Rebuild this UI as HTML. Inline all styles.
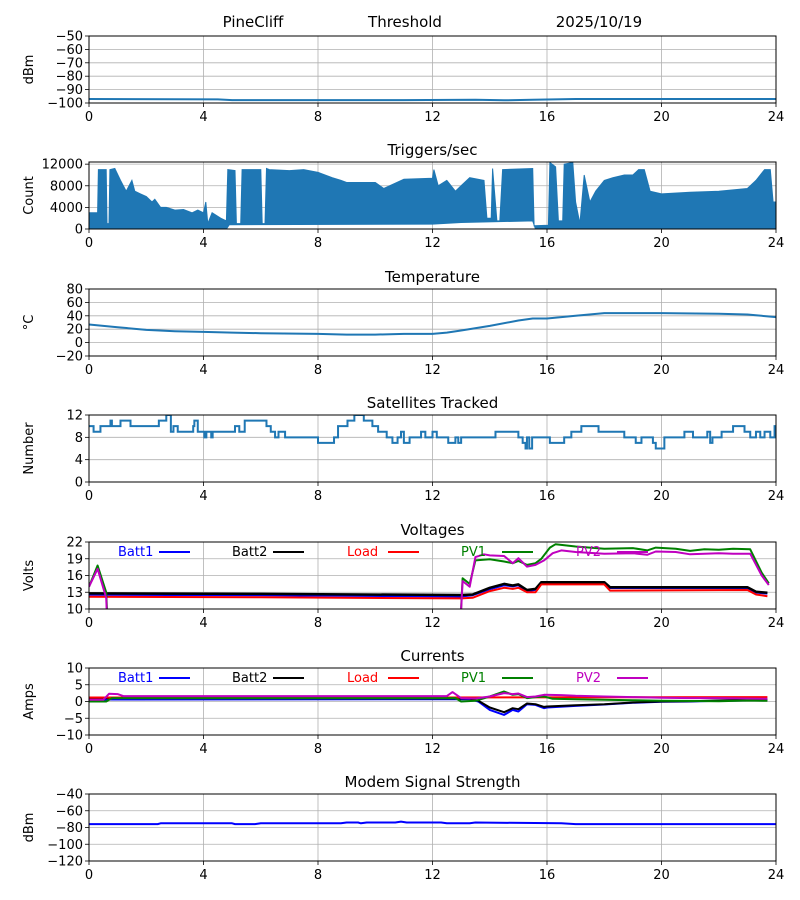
<!DOCTYPE html>
<html><head><meta charset="utf-8">
<style>
html,body{margin:0;padding:0;background:#fff;}
svg{display:block;font-family:"DejaVu Sans","Liberation Sans",sans-serif;}
</style></head>
<body>
<svg id="c" width="800" height="900" viewBox="0 0 800 900"></svg>
<script>
// ---------- DATA ----------
const xTicks = [0,4,8,12,16,20,24];
const thresholdData = [[0,-97],[4.5,-97.3],[5,-97.8],[11,-97.8],[13.5,-97.5],[14.5,-98],[15.5,-97.6],[17,-97],[24,-97]];
const triggerUpper = [[0,3000],[0.3,3000],[0.33,11000],[0.6,11000],[0.63,1000],[0.7,1000],[0.73,11000],[0.9,11200],[1.1,9000],[1.3,7000],[1.5,9000],[1.6,7000],[1.8,6500],[2.0,6000],[2.2,5000],[2.3,5500],[2.5,4000],[2.7,4000],[3.0,3500],[3.3,3600],[3.6,3000],[3.8,3500],[4.0,3000],[4.08,5000],[4.15,1000],[4.3,3000],[4.6,2000],[4.8,1500],[4.85,11000],[5.1,10800],[5.15,1000],[5.3,1000],[5.35,11000],[6.0,11000],[6.05,1000],[6.15,1000],[6.2,11200],[6.3,11000],[7.0,10800],[7.5,11000],[8.0,10500],[8.5,9500],[8.8,9000],[9.0,8600],[10.0,8600],[10.3,7500],[11.0,9200],[12.0,9400],[12.05,11000],[12.2,8000],[12.5,9000],[12.8,7000],[13.0,8000],[13.3,9500],[13.8,9000],[13.9,2000],[14.05,2000],[14.1,11200],[14.25,1500],[14.35,1500],[14.45,11000],[15.5,11200],[15.55,600],[16.05,700],[16.1,12300],[16.3,11500],[16.4,1500],[16.55,1500],[16.6,12000],[16.9,12300],[17.0,5000],[17.15,1000],[17.3,10000],[17.5,5000],[17.7,7000],[18.0,9000],[18.3,9500],[18.7,10000],[19.0,10000],[19.2,11000],[19.4,11000],[19.5,9000],[19.6,7000],[20,6500],[21,6800],[22,7000],[23,7500],[23.3,9000],[23.6,11000],[23.8,11000],[23.9,5000],[24,5000]];
const triggerLower = [[0,0],[4.8,0],[4.9,800],[12,900],[13,1200],[15.5,1500],[15.6,0],[24,0]];
const tempData = [[0,27],[1,23],[2,19],[3,17],[4,16],[5,15],[6,14],[8,13],[9,12],[10,12],[11,13],[12,13],[12.5,15],[13,18],[14,25],[15,33],[15.5,36],[16,36],[17,40],[18,44],[20,44],[22,43],[23,42],[24,38]];
const satSteps = [[0,10],[0.16,9],[0.4,10],[0.75,11],[0.8,10],[1.1,11],[1.45,10],[2.44,11],[2.7,12],[2.86,9],[2.95,10],[3.1,9],[3.64,10],[3.68,11],[3.8,9],[4.03,8],[4.1,9],[4.27,8],[4.32,9],[5.1,10],[5.25,9],[5.44,11],[6.2,10],[6.35,9],[6.5,8],[6.62,9],[6.85,8],[7.4,8],[8.0,7],[8.56,8],[8.7,10],[9.03,11],[9.27,12],[9.6,11],[9.9,10],[10.1,9],[10.4,8],[10.6,7],[10.78,8],[10.9,9],[11.0,7],[11.2,8],[11.6,9],[11.75,8],[12.0,9],[12.15,8],[12.55,7],[12.8,8],[12.9,7],[13.0,8],[14.2,9],[15.0,8],[15.15,7],[15.25,6],[15.3,8],[15.38,6],[15.48,8],[16.1,7],[16.6,8],[16.85,9],[17.2,10],[17.8,9],[18.7,8],[19.1,7],[19.3,8],[19.7,7],[19.8,6],[20.1,8],[20.8,9],[21.1,8],[21.6,9],[21.7,7],[21.78,8],[22.1,9],[22.5,10],[22.9,9],[23.1,8],[23.3,9],[23.45,8],[23.6,9],[23.8,8],[23.95,10],[24,10]];
const vBatt1 = [[0,12.6],[6,12.5],[13,12.3],[13.4,12.5],[14,13.6],[14.5,14.3],[14.8,14.1],[15,14.3],[15.3,13.2],[15.6,13.5],[15.8,14.7],[18,14.7],[18.2,13.8],[23,13.8],[23.3,13.0],[23.7,12.8]];
const vBatt2 = [[0,12.8],[6,12.7],[13,12.5],[13.4,12.6],[14,13.8],[14.5,14.5],[14.8,14.2],[15,14.4],[15.3,13.4],[15.6,13.6],[15.8,14.8],[18,14.8],[18.2,13.9],[23,13.9],[23.3,13.1],[23.7,12.9]];
const vLoad = [[0,12.2],[6,12.1],[13,11.9],[13.4,12.0],[14,13.2],[14.5,13.8],[14.8,13.6],[15,13.8],[15.3,13.0],[15.6,13.0],[15.8,14.4],[18,14.4],[18.2,13.3],[23,13.4],[23.3,12.6],[23.7,12.3]];
const vPV1 = [[0,14],[0.3,17.8],[0.6,13],[0.72,0],[12.9,0],[13.05,15.5],[13.3,14.5],[13.5,18.7],[14,18.9],[14.5,18.5],[14.8,18.2],[15,18.6],[15.3,17.9],[15.6,18.2],[15.8,19],[16.1,21],[16.3,21.6],[17,21.2],[18,20.8],[19,20.9],[19.5,20.5],[19.8,21],[20.5,20.8],[21,20.4],[21.5,20.7],[22,20.6],[22.5,20.8],[23.1,20.7],[23.5,16.5],[23.75,14.6]];
const vPV2 = [[0,14],[0.3,17.2],[0.6,12],[0.7,0],[12.9,0],[13.05,15],[13.3,14],[13.5,19.3],[13.8,19.8],[14,19.6],[14.5,19.5],[14.8,18.2],[15,19.1],[15.3,17.6],[15.6,17.9],[15.9,18.7],[16.2,20],[16.5,20.5],[17,20.2],[18,19.9],[19,20],[19.5,19.7],[19.8,20.3],[20.5,20.2],[21,19.8],[22,20],[22.5,19.9],[23.1,19.9],[23.5,16],[23.75,14.3]];
const iBatt1 = [[0,0.6],[13.3,0.7],[13.6,0],[14,-2.5],[14.5,-4],[14.8,-2.5],[15,-3],[15.3,-0.8],[15.6,-1],[15.9,-2],[16,-1.8],[17,-1.3],[18,-0.9],[19,-0.4],[20,-0.1],[21,0],[22,0.2],[23,0.3],[23.7,0.4]];
const iBatt2 = [[0,1.0],[13.3,0.9],[13.6,0.2],[14,-1.8],[14.5,-3.2],[14.8,-2],[15,-2.3],[15.3,-0.6],[15.6,-0.8],[15.9,-1.6],[16,-1.5],[17,-1.1],[18,-0.8],[19,-0.3],[20,0],[21,0.1],[22,0.3],[23,0.5],[23.7,0.6]];
const iLoad = [[0,1.2],[12,1.2],[23.7,1.3]];
const iPV1 = [[0,0],[0.6,0],[0.8,1.0],[12.8,1.0],[13,0],[13.5,0.2],[14,1.5],[14.5,3],[14.8,2],[15,2.2],[15.3,1],[15.6,1.3],[15.9,1.5],[16.2,0.8],[17,0.7],[18,0.5],[19,0.4],[20,0.2],[22,0.1],[23,0.3],[23.7,0.2]];
const iPV2 = [[0,0.5],[0.5,0.5],[0.7,2.3],[1,2.2],[1.2,1.6],[12.5,1.6],[12.7,2.8],[13,1],[13.5,0.9],[14,1.5],[14.5,2.5],[14.8,2.2],[15,2.4],[15.3,1.3],[15.6,1.5],[15.9,2],[16.5,1.9],[17,1.7],[18,1.5],[19,1.3],[20,1.1],[21,1],[22,1],[23,0.9],[23.7,0.8]];
const modemData = [[0,-76],[2.4,-76],[2.5,-75],[5,-75],[5.1,-76],[5.8,-76],[6,-75],[8.8,-75],[9,-74],[9.4,-74],[9.5,-75],[9.7,-74],[10.7,-74],[10.9,-73],[11.1,-74],[12.3,-74],[12.5,-75],[13.3,-75],[13.5,-74],[16.5,-75],[17,-76],[24,-76]];
const legendLabels = ["Batt1","Batt2","Load","PV1","PV2"];
const legendColors = ["#0000ff","#000000","#ff0000","#008000","#bf00bf"];

// ---------- LAYOUT ----------
const NS="http://www.w3.org/2000/svg";
const svg=document.getElementById('c');
const L=89,R=776,H=67;
function el(tag,attrs,parent){const e=document.createElementNS(NS,tag);for(const k in attrs)e.setAttribute(k,attrs[k]);(parent||svg).appendChild(e);return e;}
function xs(h){return L+(h/24)*(R-L);}
function makePanel(id,top,ymin,ymax,yticks,ylabel,title){
  const g=el('g',{});
  
  
  const ys=v=>top+H-(v-ymin)/(ymax-ymin)*H;
  const cp=el('clipPath',{id:'clip-'+id},g);
  el('rect',{x:L,y:top,width:R-L,height:H},cp);
  // grid
  xTicks.forEach(t=>{const ln=el('line',{x1:xs(t),x2:xs(t),y1:top,y2:top+H,stroke:'#b0b0b0','stroke-width':0.8},g);});
  yticks.forEach(t=>{const ln=el('line',{x1:L,x2:R,y1:ys(t),y2:ys(t),stroke:'#b0b0b0','stroke-width':0.8},g);});
  const plot=el('g',{'clip-path':'url(#clip-'+id+')'},g);
  
  
  const fr=el('rect',{x:L,y:top,width:R-L,height:H,fill:'none',stroke:'#000','stroke-width':1},g);
  
  xTicks.forEach(t=>{
    el('line',{x1:xs(t),x2:xs(t),y1:top+H,y2:top+H+4,stroke:'#000','stroke-width':0.8},g);
    const tx=el('text',{x:xs(t),y:top+H+18,'font-size':13,'text-anchor':'middle'},g);tx.textContent=t;
    
  });
  yticks.forEach(t=>{
    el('line',{x1:L-4,x2:L,y1:ys(t),y2:ys(t),stroke:'#000','stroke-width':0.8},g);
    const tx=el('text',{x:L-6,y:ys(t)+4.5,'font-size':13,'text-anchor':'end'},g);tx.textContent=(t<0?'\u2212'+(-t):t);
    
  });
  const yl=el('text',{x:0,y:0,'font-size':13,'text-anchor':'middle',transform:'translate(33,'+(top+H/2)+') rotate(-90)'},g);
  yl.textContent=ylabel;
  if(title){const tt=el('text',{x:(L+R)/2,y:top-7,'font-size':15,'text-anchor':'middle'},g);tt.textContent=title;}
  return {plot,ys,g,top};
}
function line(p,data,color,w,name){
  const d=data.map((pt,i)=>(i?'L':'M')+xs(pt[0]).toFixed(1)+' '+p.ys(pt[1]).toFixed(1)).join(' ');
  const e=el('path',{d:d,fill:'none',stroke:color,'stroke-width':w,'stroke-linejoin':'round'},p.plot);
  
}
function step(p,data,color,w,name){
  let d='';data.forEach((pt,i)=>{if(i===0)d+='M'+xs(pt[0])+' '+p.ys(pt[1]);else d+=' L'+xs(pt[0])+' '+p.ys(data[i-1][1])+' L'+xs(pt[0])+' '+p.ys(pt[1]);});
  const e=el('path',{d:d,fill:'none',stroke:color,'stroke-width':w},p.plot);
  
}
function legend(p){
  const xsL=[118,232,347,461,576];
  legendLabels.forEach((lab,i)=>{
    const g=el('g',{},p.g);
    
    
    const t=el('text',{x:xsL[i],y:p.top+14,'font-size':13,fill:legendColors[i]},g);t.textContent=lab;
    el('line',{x1:xsL[i]+41,x2:xsL[i]+72,y1:p.top+10,y2:p.top+10,stroke:legendColors[i],'stroke-width':2},g);
  });
}

// header title
[['PineCliff',253],['Threshold',405],['2025/10/19',599]].forEach(a=>{
  const t=el('text',{x:a[1],y:27,'font-size':15,'text-anchor':'middle'});t.textContent=a[0];
  
});

const p1=makePanel('threshold',36,-100,-50,[-50,-60,-70,-80,-90,-100],'dBm',null);
line(p1,thresholdData,'#1f77b4',2,'threshold-line');

const p2=makePanel('triggers',162,0,12400,[0,4000,8000,12000],'Count','Triggers/sec');
(function(){
  const pts=triggerUpper.map(pt=>xs(pt[0]).toFixed(1)+','+p2.ys(pt[1]).toFixed(1)).concat(triggerLower.slice().reverse().map(pt=>xs(pt[0]).toFixed(1)+','+p2.ys(pt[1]).toFixed(1)));
  const e=el('polygon',{points:pts.join(' '),fill:'#1f77b4',stroke:'#1f77b4','stroke-width':1},p2.plot);
  
})();

const p3=makePanel('temperature',289,-20,80,[-20,0,20,40,60,80],'\u00B0C','Temperature');
line(p3,tempData,'#1f77b4',2,'temperature-line');

const p4=makePanel('satellites',415,0,12,[0,4,8,12],'Number','Satellites Tracked');
step(p4,satSteps,'#1f77b4',2,'satellites-line');

const p5=makePanel('voltages',542,10,22,[10,13,16,19,22],'Volts','Voltages');
line(p5,vBatt1,'#0000ff',2.5,'batt1-voltage-line');
line(p5,vBatt2,'#000000',2.5,'batt2-voltage-line');
line(p5,vLoad,'#ff0000',2,'load-voltage-line');
line(p5,vPV1,'#008000',2,'pv1-voltage-line');
line(p5,vPV2,'#bf00bf',2,'pv2-voltage-line');
legend(p5);

const p6=makePanel('currents',668,-10,10,[-10,-5,0,5,10],'Amps','Currents');
line(p6,iBatt1,'#0000ff',2,'batt1-current-line');
line(p6,iBatt2,'#000000',2,'batt2-current-line');
line(p6,iLoad,'#ff0000',2,'load-current-line');
line(p6,iPV1,'#008000',2,'pv1-current-line');
line(p6,iPV2,'#bf00bf',2,'pv2-current-line');
legend(p6);

const p7=makePanel('modem',794,-120,-40,[-40,-60,-80,-100,-120],'dBm','Modem Signal Strength');
line(p7,modemData,'#0000ff',2,'modem-signal-line');
</script>
</body></html>
